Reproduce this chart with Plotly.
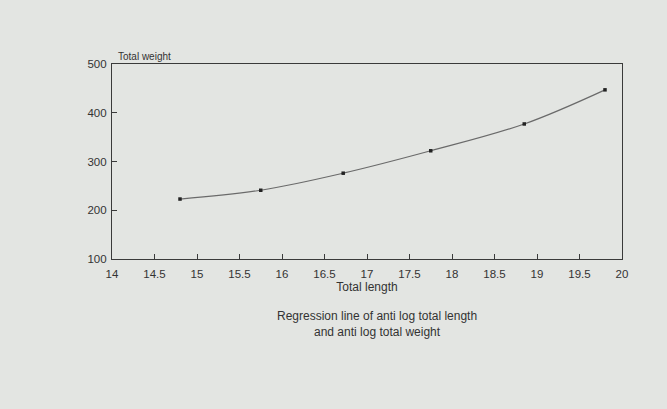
import plotly.graph_objects as go

# Data
total_length = [14.8, 15.75, 16.72, 17.75, 18.85, 19.8]
total_weight = [223, 241, 276, 322, 377, 447]

x_ticks = [14, 14.5, 15, 15.5, 16, 16.5, 17, 17.5, 18, 18.5, 19, 19.5, 20]
x_tick_labels = ["14", "14.5", "15", "15.5", "16", "16.5", "17", "17.5", "18", "18.5", "19", "19.5", "20"]
y_ticks = [100, 200, 300, 400, 500]
y_tick_labels = ["100", "200", "300", "400", "500"]

paper = "#e3e5e2"
ink = "#3a3a3a"
font_family = "Liberation Sans, Arial, sans-serif"

fig = go.Figure()
fig.add_trace(go.Scatter(
    x=total_length, y=total_weight,
    mode="lines+markers",
    line=dict(color="#6a6a6a", width=1.2, shape="spline"),
    marker=dict(color="#222222", size=3.5, symbol="square"),
    showlegend=False,
    hoverinfo="x+y",
))

axis_common = dict(
    showgrid=False, zeroline=False, showline=True, linecolor=ink, linewidth=1.2,
    mirror=True, ticks="inside", ticklen=5, tickcolor=ink,
    tickfont=dict(family=font_family, size=11.5, color="#333333"),
)

fig.update_layout(
    width=667, height=409,
    paper_bgcolor=paper, plot_bgcolor=paper,
    margin=dict(l=112, r=45, t=64, b=150),
    font=dict(family=font_family, color="#333333"),
    xaxis=dict(range=[14, 20], tickvals=x_ticks, ticktext=x_tick_labels,
               ticklabelstandoff=4,
               title=dict(text="Total length", font=dict(size=12, family=font_family), standoff=2),
               **axis_common),
    yaxis=dict(range=[100, 500], tickvals=y_ticks, ticktext=y_tick_labels,
               ticklabelstandoff=2,
               **axis_common),
    annotations=[
        dict(text="Total weight", xref="x", yref="y", x=14, y=500, xanchor="left",
             yanchor="bottom", xshift=4, yshift=0, showarrow=False,
             font=dict(size=10, family=font_family, color="#333333")),
        dict(text="Regression line of anti log total length<br>and anti log total weight",
             xref="paper", yref="paper", x=0.52, y=-0.245, xanchor="center", yanchor="top",
             showarrow=False, align="center",
             font=dict(size=12, family=font_family, color="#333333")),
    ],
)

fig.write_html(
    "out.html",
    config={"displayModeBar": False},
    post_script="document.body.style.margin='0';document.body.style.background='#e3e5e2';document.body.style.overflow='hidden';",
)
